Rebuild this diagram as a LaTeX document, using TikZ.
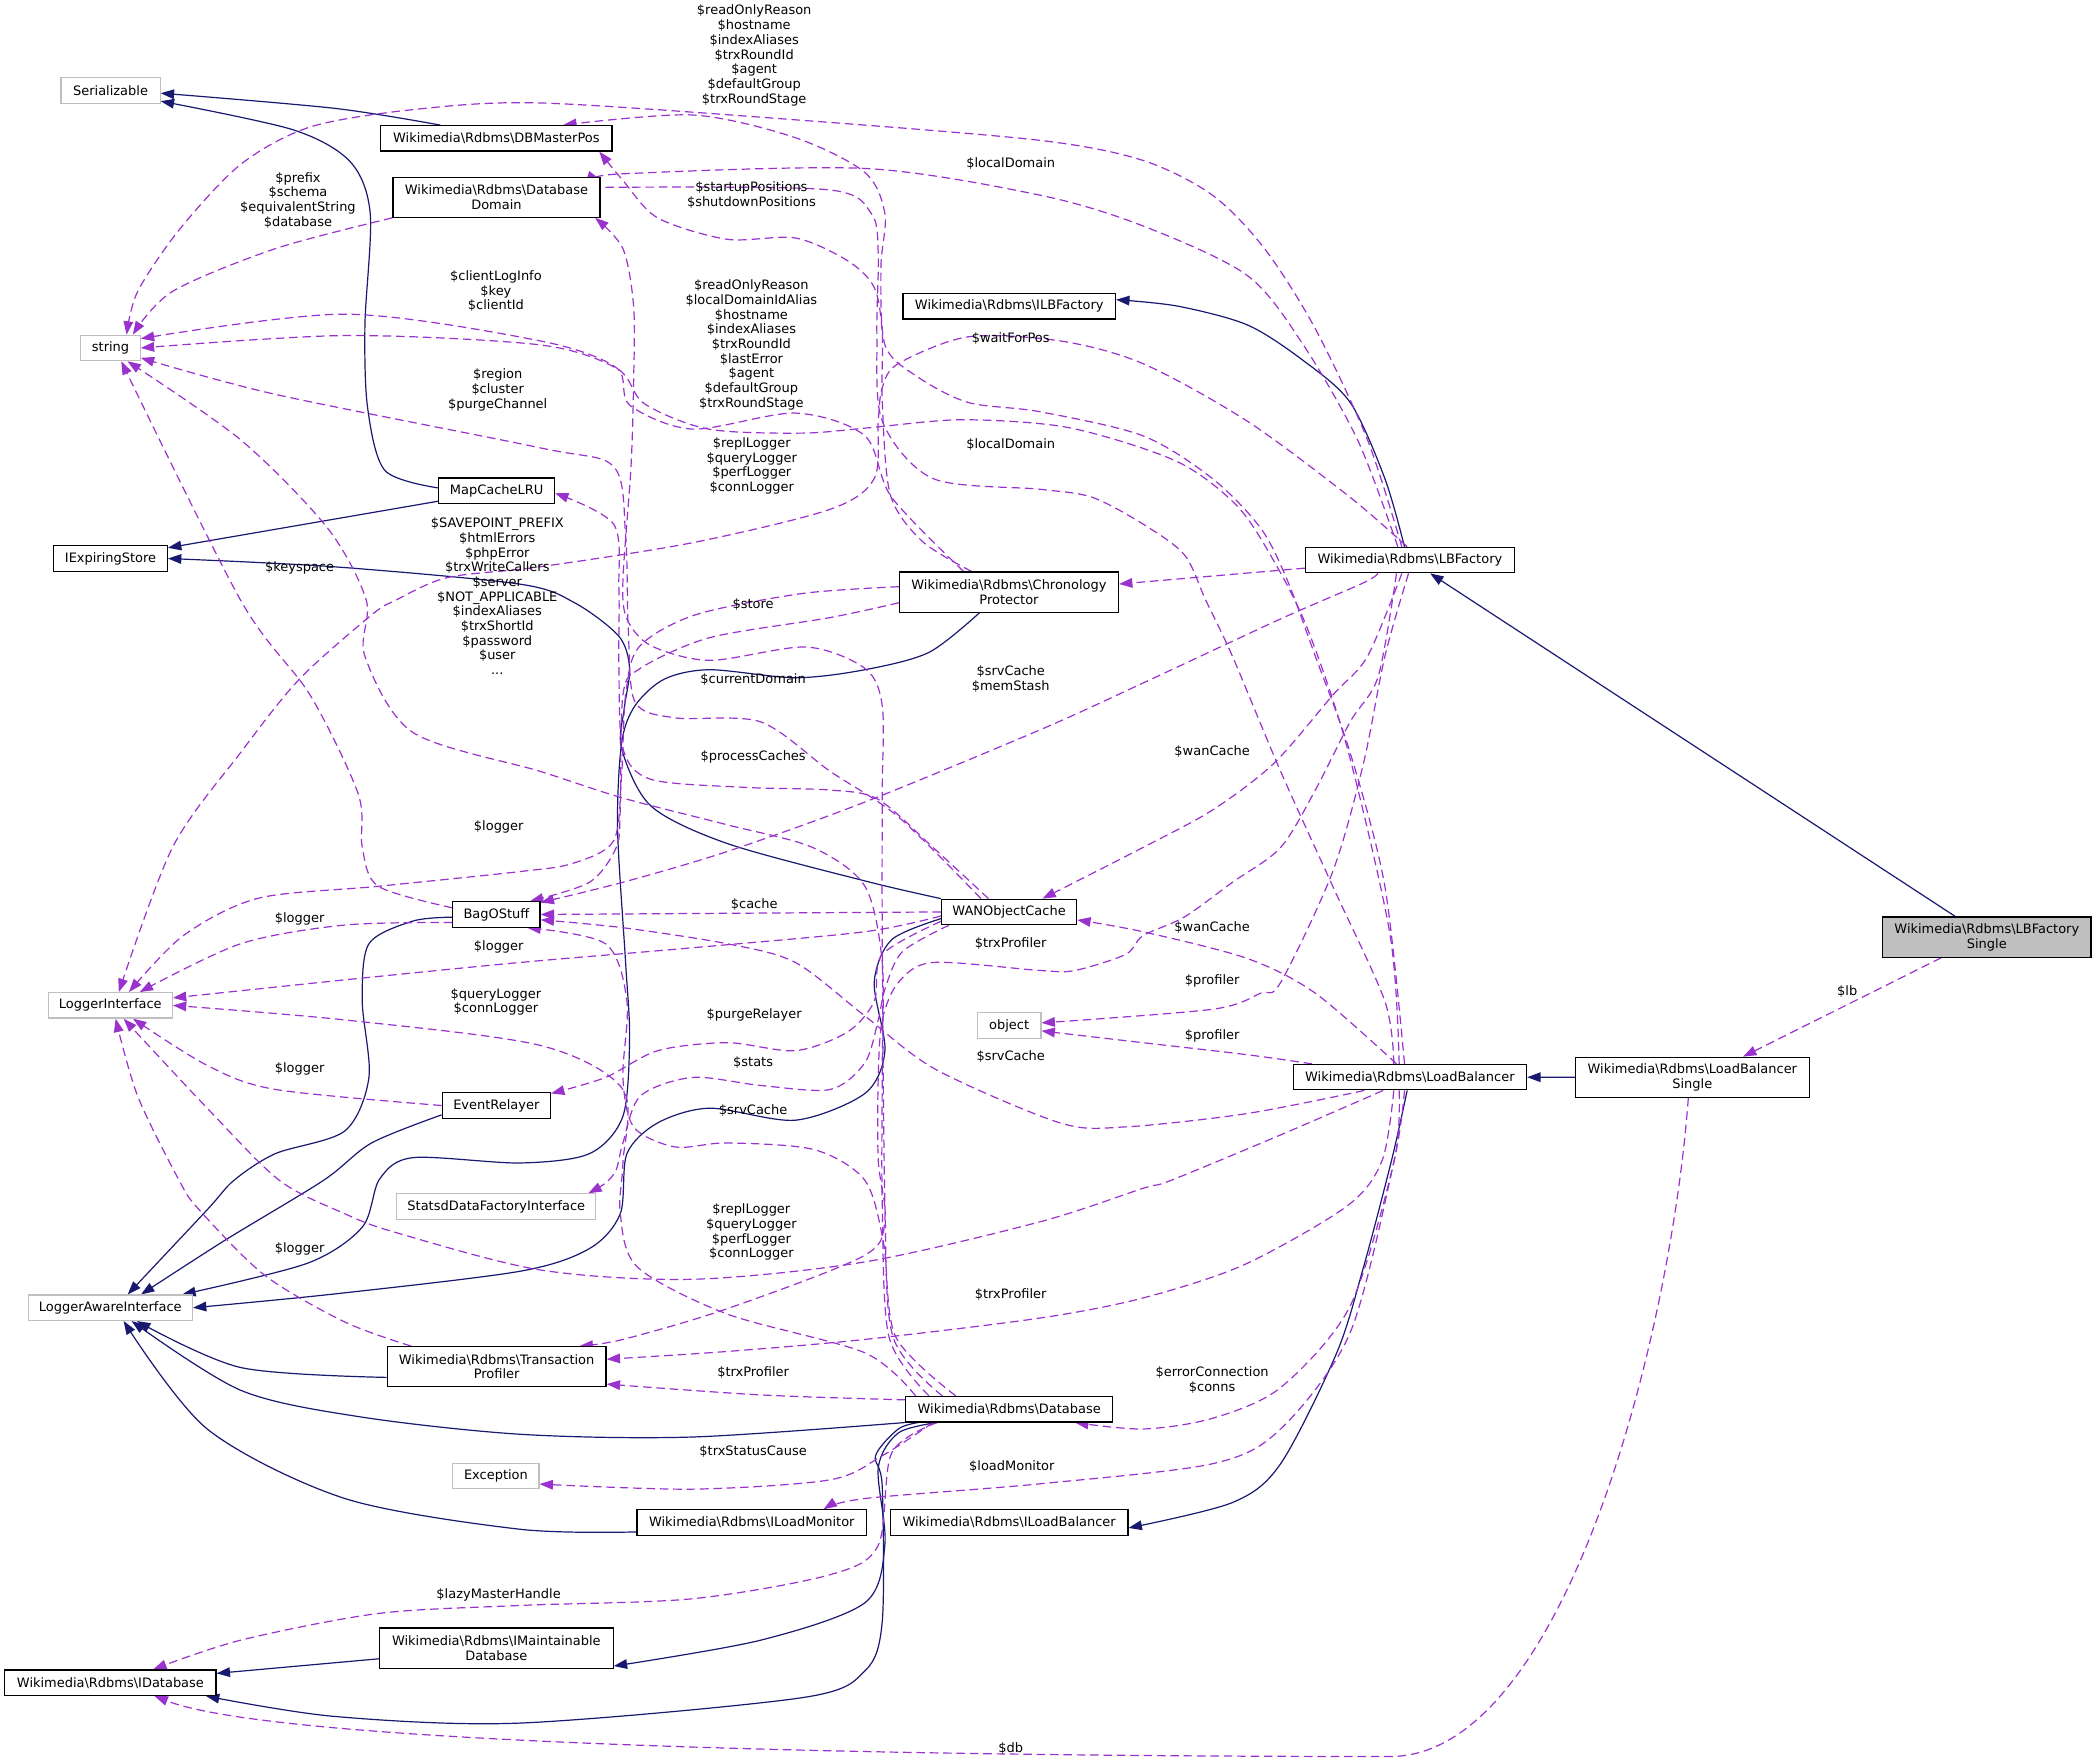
\documentclass[tikz,border=0pt]{standalone}
\usepackage{fontspec}
\setmainfont{DejaVu Sans}
\usetikzlibrary{arrows.meta, backgrounds}
\definecolor{edgeblue}{RGB}{25,25,112}
\definecolor{edgepurple}{RGB}{154,50,205}
\definecolor{extgray}{RGB}{191,191,191}
\newcommand{\rdbms}{Wikimedia\textbackslash{}Rdbms\textbackslash{}}

\begin{document}
\begin{tikzpicture}[
  x=0.5pt, y=-0.5pt,
  every node/.style={font=\fontsize{4.85pt}{5.5pt}\selectfont, inner sep=0pt, align=center},
  cls/.style={rectangle, draw=black, fill=white, line width=0.45pt, minimum height=9.5pt},
  ext/.style={cls, draw=extgray},
  focus/.style={cls, fill=extgray},
  tall/.style={minimum height=15pt},
  inh/.style={draw=edgeblue, line width=0.45pt, -{Triangle[length=5pt,width=3.6pt]}},
  dep/.style={draw=edgepurple, line width=0.45pt, dash pattern=on 3.2pt off 1.8pt,
              -{Triangle[length=5pt,width=3.6pt]}},
  lbl/.style={text=black},
]
\useasboundingbox (0,0) rectangle (1568,1319);

% ---- nodes ----
\node[ext, minimum width=37.1pt] (ser) at (82.7,67.7) {Serializable};
\node[ext, minimum width=22.2pt] (str) at (82.7,260.3) {string};
\node[cls, minimum width=42.5pt] (ies) at (82.7,417.8) {IExpiringStore};
\node[cls, minimum width=86.6pt] (dbmp) at (371.3,103.5) {\rdbms DBMasterPos};
\node[cls, tall, minimum width=77.4pt] (dbdom) at (371.4,147.5) {\rdbms Database\\Domain};
\node[cls, minimum width=43.3pt] (mclru) at (371.5,367) {MapCacheLRU};
\node[cls, tall, minimum width=81.9pt] (chron) at (754.8,442.9) {\rdbms Chronology\\Protector};
\node[cls, minimum width=79.5pt] (ilbf) at (755,229.2) {\rdbms ILBFactory};
\node[cls, minimum width=78.1pt] (lbf) at (1054.7,419) {\rdbms LBFactory};
\node[focus, tall, minimum width=78pt] (lbfs) at (1486.3,701) {\rdbms LBFactory\\Single};
\node[cls, tall, minimum width=87.5pt] (lbs) at (1266,805.9) {\rdbms LoadBalancer\\Single};
\node[cls, minimum width=87.3pt] (lb) at (1054.7,805.8) {\rdbms LoadBalancer};
\node[cls, minimum width=50.5pt] (wan) at (754.9,682.2) {WANObjectCache};
\node[cls, minimum width=32.6pt] (bag) at (371.4,684.1) {BagOStuff};
\node[ext, minimum width=46.4pt] (li) at (82.5,752.1) {LoggerInterface};
\node[cls, minimum width=40.5pt] (evr) at (371.3,827) {EventRelayer};
\node[ext, minimum width=23.8pt] (obj) at (754.9,767.2) {object};
\node[ext, minimum width=74.4pt] (statsd) at (371.3,902.6) {StatsdDataFactoryInterface};
\node[ext, minimum width=61.4pt] (lai) at (82.5,978.3) {LoggerAwareInterface};
\node[cls, tall, minimum width=81.9pt] (trx) at (371.5,1022.4) {\rdbms Transaction\\Profiler};
\node[cls, minimum width=77.4pt] (db) at (755,1054.2) {\rdbms Database};
\node[ext, minimum width=32.2pt] (exc) at (371,1104.2) {Exception};
\node[cls, minimum width=85.8pt] (ilm) at (562.4,1139) {\rdbms ILoadMonitor};
\node[cls, minimum width=88.9pt] (ilb) at (754.9,1139) {\rdbms ILoadBalancer};
\node[cls, tall, minimum width=87.4pt] (imd) at (371.3,1232.9) {\rdbms IMaintainable\\Database};
\node[cls, minimum width=79pt] (idb) at (82.6,1258.8) {\rdbms IDatabase};

\begin{scope}[on background layer]
% ---- inheritance ----
\draw[inh] plot[smooth] coordinates {([xshift=-21pt]dbmp.north) (250,81) ([yshift=-1pt]ser.east)};
\draw[inh] plot[smooth] coordinates {([yshift=1pt]mclru.west) (288,352) (275,305) (273,243) (277,160) (262,121) (219,97) ([yshift=-4pt]ser.east)};
\draw[inh] ([yshift=1pt]mclru.south west) -- ([yshift=4pt]ies.east);
\draw[inh] plot[smooth] coordinates {(wan.north west) (647,659) (544,631) (487,603) (465,560) (467,530) (471,500) (463,476) (430,451) (389,437) (250,424) (ies.east)};
\draw[inh] plot[smooth] coordinates {([xshift=-11pt]chron.south) (695,488) (647,501) (595,507) (531,501) (497,508) (475,528) (465,556) (462,620) (468,720) (471,777) (466,835) (441,863) (389,870) (309,866) (284,882) (271,918) (230,945) ([xshift=-4pt]lai.north east)};
\draw[inh] plot[smooth] coordinates {([yshift=-1pt]bag.west) (309,689) (276,706) (271,749) (276,806) (258,846) (206,863) (175,883) (155,905) ([xshift=6.5pt]lai.north)};
\draw[inh] plot[smooth] coordinates {([yshift=-3.5pt]evr.west) (278,855) (242,883) (168,928) ([xshift=11.5pt]lai.north)};
\draw[inh] plot[smooth] coordinates {([yshift=-2.5pt]wan.west) (667,703) (654,735) (662,786) (647,818) (595,838) (531,829) (492,840) (469,863) (464,908) (441,934) (389,951) (250,968) (lai.east)};
\draw[inh] plot[smooth] coordinates {([yshift=-4pt]trx.west) (180,1023) ([xshift=10pt]lai.south)};
\draw[inh] plot[smooth] coordinates {(db.south west) (518,1075) (390,1073) (270,1060) (180,1040) ([xshift=8pt]lai.south)};
\draw[inh] plot[smooth] coordinates {([yshift=-3.5pt]ilm.west) (389,1144) (258,1121) (155,1069) ([xshift=5pt]lai.south)};
\draw[inh] ([yshift=-4pt]imd.west) -- ([yshift=3.5pt]idb.east);
\draw[inh] plot[smooth] coordinates {([xshift=5pt]db.south west) (672,1069) (655,1089) (660,1112) (660,1213) (647,1250) (600,1270) (389,1289) (250,1284) ([xshift=-4pt]idb.south east)};
\draw[inh] plot[smooth] coordinates {([xshift=12pt]db.south west) (672,1072) (657,1098) (662,1155) (647,1199) (569,1227) ([yshift=1pt]imd.south east)};
\draw[inh] plot[smooth] coordinates {([xshift=-1pt]lb.south) (1041,868) (1020,948) (1000,1012) (958,1095) (922,1124) ([yshift=-2pt]ilb.east)};
\draw[inh] (lbs) -- (lb);
\draw[inh] (lbfs) -- (lbf);
\draw[inh] plot[smooth] coordinates {([xshift=-2pt]lbf.north) (1036,358) (1010,301) (974,269) (933,243) (881,229) ([yshift=2.5pt]ilbf.east)};

% ---- members ----
\draw[dep] plot[smooth] coordinates {([xshift=-3pt]lbf.north) (1023,329) (984,246) (946,186) (907,146) (855,120) (778,105) (600,90) (404,77) (309,82) (232,95) (180,123) (134,172) (103,218) ([xshift=6pt]str.north)};
\draw[dep] plot[smooth] coordinates {([xshift=-4.5pt]lbf.north) (1016,330) (975,258) (933,206) (855,169) (778,146) (647,126) (466,130) ([yshift=6.5pt]dbdom.east)};
\draw[dep] plot[smooth] coordinates {(dbdom.south west) (206,186) (129,218) ([xshift=-3pt]str.north east)};
\draw[dep] plot[smooth] coordinates {([xshift=-14pt]chron.north) (690,405) (666,370) (660,300) (660,249) (654,215) (634,195) (595,178) (544,179) (492,163) (466,135) ([xshift=-5pt]dbmp.south east)};
\draw[dep] plot[smooth] coordinates {([xshift=-2pt]lb.north) (1036,663) (1010,563) (984,491) (963,434) (943,395) (907,358) (855,326) (778,308) (724,301) (685,281) (662,258) (659,200) (662,160) (647,129) (595,103) (518,86) ([xshift=25pt]dbmp.north)};
\draw[dep] plot[smooth] coordinates {([xshift=-6pt]lb.north) (1036,749) (997,663) (958,577) (922,491) (902,449) (886,415) (855,392) (817,372) (778,366) (698,358) (660,315) (656,250) (657,190) (652,160) (620,142) (466,140) ([yshift=3pt]dbdom.east)};
\draw[dep] plot[smooth] coordinates {([xshift=-4pt]lb.north) (1040,700) (1008,560) (978,470) (952,418) (925,378) (880,345) (800,320) (720,314) (650,320) (600,324) (530,321) (482,302) (462,276) (404,258) (258,251) (str.east)};
\draw[dep] plot[smooth] coordinates {([xshift=-17pt]chron.north) (667,372) (647,326) (595,309) (518,321) (471,303) (461,275) (404,255) (258,235) ([yshift=3.5pt]str.east)};
\draw[dep] ([yshift=-3pt]lbf.west) -- ([yshift=3pt]chron.east);
\draw[dep] plot[smooth] coordinates {([xshift=-1pt]lbf.north) (1010,372) (933,315) (855,272) (793,255) (724,252) (672,272) (660,290) (657,315) (654,358) (621,381) (518,406) (404,424) (335,432) (296,449) (278,460) (224,508) (180,563) (129,634) ([xshift=3.2pt]li.north)};
\draw[dep] plot[smooth] coordinates {([xshift=-12pt]lbf.south) (1020,436) (958,463) (855,511) (778,546) (647,600) (544,637) (466,660) ([yshift=4.5pt]bag.east)};
\draw[dep] plot[smooth] coordinates {([xshift=-3pt]lbf.south) (1023,491) (997,520) (953,571) (907,606) (855,634) ([xshift=-13pt]wan.north east)};
\draw[dep] plot[smooth] coordinates {([xshift=-0.5pt]lbf.south) (1036,491) (1020,571) (997,652) (958,735) (943,743) (907,755) ([yshift=1pt]obj.east)};
\draw[dep] plot[smooth] coordinates {([xshift=-5pt]lbf.south) (1031,506) (1010,540) (984,591) (958,634) (922,660) (886,686) (855,700) (842,714) (804,726) (778,726) (698,720) (672,735) (660,763) (657,806) (657,868) (662,911) (647,939) (544,979) (466,1002) ([xshift=31pt]trx.north)};
\draw[dep] plot[smooth] coordinates {([xshift=-5pt]lb.north) (984,743) (933,717) (855,697) ([yshift=-3pt]wan.east)};
\draw[dep] plot[smooth] coordinates {([xshift=-36.6pt]lb.north) (933,789) (855,780) ([yshift=-2pt]obj.east)};
\draw[dep] plot[smooth] coordinates {([xshift=-17pt]lb.south) (933,833) (842,843) (793,840) (700,800) (647,760) (595,720) (544,706) (466,694) ([yshift=-2pt]bag.east)};
\draw[dep] plot[smooth] coordinates {([xshift=-10pt]lb.south) (958,849) (876,883) (855,889) (778,914) (647,944) (518,957) (404,950) (296,922) (258,908) (209,883) (155,829) ([xshift=5pt]li.south)};
\draw[dep] plot[smooth] coordinates {([xshift=-6pt]lb.south) (1034,868) (1008,902) (931,946) (855,971) (778,986) (647,1002) (544,1011) ([yshift=2.8pt]trx.east)};
\draw[dep] plot[smooth] coordinates {([xshift=-4pt]lb.south) (1043,868) (1010,977) (958,1038) (907,1061) (855,1069) ([xshift=-14.3pt]db.south east)};
\draw[dep] plot[smooth] coordinates {([xshift=-2pt]lb.south) (1043,868) (1010,997) (958,1069) (907,1095) (778,1110) (647,1121) ([xshift=-16.25pt]ilm.north east)};
\draw[dep] ([xshift=-1.5pt]lbs.south) .. controls (1250,1000) and (1170,1314) .. (1040,1314)
  .. controls (600,1314) and (200,1302) .. ([xshift=16.5pt]idb.south);
\draw[dep] ([xshift=-17pt]lbfs.south) -- ([xshift=19pt]lbs.north);
\draw[dep] (wan.west) -- (bag.east);
\draw[dep] plot[smooth] coordinates {([yshift=-1.5pt]wan.west) (647,697) (518,709) (389,720) (258,733) ([yshift=2.8pt]li.east)};
\draw[dep] plot[smooth] coordinates {([xshift=-7.7pt]wan.north) (698,634) (657,598) (621,591) (557,589) (487,583) (466,560) (463,500) (463,440) (459,392) ([yshift=-1pt]mclru.east)};
\draw[dep] plot[smooth] coordinates {([xshift=-10.5pt]wan.north) (672,611) (621,577) (569,540) (505,537) (475,525) (470,470) (468,400) (459,349) (404,335) (206,295) ([yshift=-3.7pt]str.east)};
\draw[dep] plot[smooth] coordinates {([yshift=-3.5pt]wan.west) (660,714) (654,749) (634,772) (595,786) (544,780) (492,786) (453,806) ([yshift=4.5pt]evr.east)};
\draw[dep] plot[smooth] coordinates {([xshift=3pt]wan.south west) (675,712) (662,740) (657,763) (647,795) (621,815) (569,812) (518,806) (479,820) (466,855) (461,875) (453,885) ([xshift=-3pt]statsd.north east)};
\draw[dep] plot[smooth] coordinates {([yshift=-4pt]chron.west) (621,462) (531,477) (479,500) (466,520) (464,606) (461,634) (441,660) ([xshift=-4pt]bag.north east)};
\draw[dep] plot[smooth] coordinates {([yshift=2pt]chron.west) (600,444) (520,460) (478,484) (468,520) (465,580) (459,629) (428,646) (389,652) (283,663) (193,672) (137,700) ([xshift=7pt]li.north)};
\draw[dep] plot[smooth] coordinates {([yshift=-3pt]bag.west) (258,692) (180,706) ([xshift=11pt]li.north)};
\draw[dep] plot[smooth] coordinates {([yshift=2.5pt]bag.west) (283,663) (271,634) (268,594) (232,520) (180,449) ([xshift=4pt]str.south)};
\draw[dep] plot[smooth] coordinates {([xshift=-30pt]db.north) (665,1000) (660,900) (660,800) (660,720) (647,663) (608,634) (544,617) (466,597) (404,577) (309,548) (273,491) (274,449) (245,395) (180,329) ([xshift=-5pt]str.south east)};
\draw[dep] plot[smooth] coordinates {([xshift=-25pt]db.north) (668,1000) (662,900) (660,700) (660,594) (660,528) (647,500) (603,484) (531,494) (487,483) (469,463) (466,434) (472,350) (474,286) (474,229) (466,186) ([xshift=-2pt]dbdom.south east)};
\draw[dep] plot[smooth] coordinates {([xshift=-20pt]db.north) (670,1000) (661,930) (647,883) (609,860) (544,855) (505,858) (474,843) (466,806) (469,749) (453,706) ([xshift=-5pt]bag.south east)};
\draw[dep] plot[smooth] coordinates {([xshift=-35pt]db.north) (647,1012) (544,983) (477,948) (464,908) (466,870) (466,815) (404,782) (258,763) (li.east)};
\draw[dep] plot[smooth] coordinates {([yshift=3.5pt]db.west) (569,1043.5) ([yshift=-6.5pt]trx.east)};
\draw[dep] plot[smooth] coordinates {([xshift=-28.5pt]db.south) (660,1089) (621,1107) (518,1114) ([yshift=-3pt]exc.east)};
\draw[dep] plot[smooth] coordinates {([xshift=-27pt]db.south) (667,1087) (657,1156) (621,1178) (518,1196) (389,1201) (283,1207) (180,1227) ([xshift=16pt]idb.north)};
\draw[dep] plot[smooth] coordinates {(evr.west) (206,815) (155,797) ([xshift=8.5pt]li.south)};
\draw[dep] plot[smooth] coordinates {([xshift=-32pt]trx.north) (258,989) (198,954) (149,905) (134,883) (103,820) ([xshift=2pt]li.south)};
\end{scope}

% ---- labels ----
\node[lbl] (l-lbfstr) at (564.2,41.5) {\$readOnlyReason\\\$hostname\\\$indexAliases\\\$trxRoundId\\\$agent\\\$defaultGroup\\\$trxRoundStage};
\node[lbl] (l-lbfdom) at (756.1,122.5) {\$localDomain};
\node[lbl] (l-domstr) at (222.9,149.7) {\$prefix\\\$schema\\\$equivalentString\\\$database};
\node[lbl] (l-chrpos) at (562.1,145.7) {\$startupPositions\\\$shutdownPositions};
\node[lbl] (l-chrstr) at (371,217.9) {\$clientLogInfo\\\$key\\\$clientId};
\node[lbl] (l-lbstr) at (562.1,258) {\$readOnlyReason\\\$localDomainIdAlias\\\$hostname\\\$indexAliases\\\$trxRoundId\\\$lastError\\\$agent\\\$defaultGroup\\\$trxRoundStage};
\node[lbl] (l-lbpos) at (756.1,253.4) {\$waitForPos};
\node[lbl] (l-wanstr) at (372.3,291.7) {\$region\\\$cluster\\\$purgeChannel};
\node[lbl] (l-lbdom) at (756.1,332.6) {\$localDomain};
\node[lbl] (l-lbflog) at (562.4,348.5) {\$replLogger\\\$queryLogger\\\$perfLogger\\\$connLogger};
\node[lbl] (l-dbstr) at (372,446) {\$SAVEPOINT\_PREFIX\\\$htmlErrors\\\$phpError\\\$trxWriteCallers\\\$server\\\$NOT\_APPLICABLE\\\$indexAliases\\\$trxShortId\\\$password\\\$user\\...};
\node[lbl] (l-keyspace) at (224.1,425.1) {\$keyspace};
\node[lbl] (l-store) at (563.4,451.9) {\$store};
\node[lbl] (l-curdom) at (563.4,508.3) {\$currentDomain};
\node[lbl] (l-lbfbag) at (756.1,508) {\$srvCache\\\$memStash};
\node[lbl] (l-proc) at (563.4,566.2) {\$processCaches};
\node[lbl] (l-lbfwan) at (906.8,562.2) {\$wanCache};
\node[lbl] (l-chrlog) at (373.1,618.5) {\$logger};
\node[lbl] (l-baglog) at (224.1,687.3) {\$logger};
\node[lbl] (l-cache) at (564.2,676.7) {\$cache};
\node[lbl] (l-lbwan) at (906.8,693.8) {\$wanCache};
\node[lbl] (l-lbftrx) at (756.1,705.9) {\$trxProfiler};
\node[lbl] (l-wanlog) at (373.1,708.1) {\$logger};
\node[lbl] (l-lbfobj) at (906.8,733.6) {\$profiler};
\node[lbl] (l-lb) at (1381.9,741.6) {\$lb};
\node[lbl] (l-dblog) at (371,749.4) {\$queryLogger\\\$connLogger};
\node[lbl] (l-purge) at (564.2,759.1) {\$purgeRelayer};
\node[lbl] (l-lbobj) at (906.8,775.2) {\$profiler};
\node[lbl] (l-lbbag) at (756.1,790.3) {\$srvCache};
\node[lbl] (l-stats) at (563.4,795.2) {\$stats};
\node[lbl] (l-evrlog) at (224.1,799.5) {\$logger};
\node[lbl] (l-dbbag) at (563.4,830.4) {\$srvCache};
\node[lbl] (l-lblog) at (562.1,921.7) {\$replLogger\\\$queryLogger\\\$perfLogger\\\$connLogger};
\node[lbl] (l-trxlog) at (224.1,934) {\$logger};
\node[lbl] (l-lbtrx) at (756.1,968.5) {\$trxProfiler};
\node[lbl] (l-dbtrx) at (563.4,1026.6) {\$trxProfiler};
\node[lbl] (l-conns) at (906.8,1032.5) {\$errorConnection\\\$conns};
\node[lbl] (l-cause) at (563.4,1085.9) {\$trxStatusCause};
\node[lbl] (l-monitor) at (756.9,1097) {\$loadMonitor};
\node[lbl] (l-lazy) at (373,1192.9) {\$lazyMasterHandle};
\node[lbl] (l-db) at (756.1,1308) {\$db};

\end{tikzpicture}
\end{document}
